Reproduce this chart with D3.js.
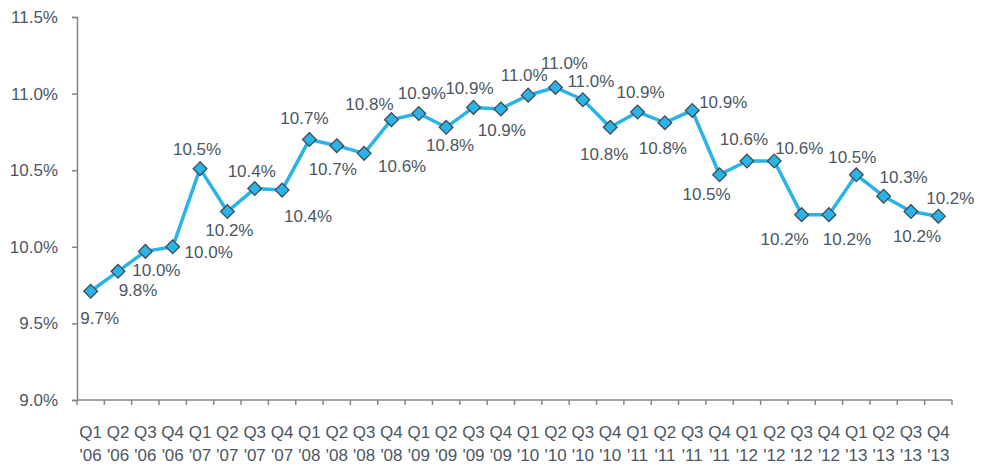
<!DOCTYPE html>
<html>
<head>
<meta charset="utf-8">
<script src="https://cdn.jsdelivr.net/npm/d3@7"></script>
<style>
  body { margin: 0; background: #fff; }
  text { font-family: "Liberation Sans", Arial, sans-serif; }
</style>
</head>
<body>
<svg id="chart" width="991" height="468"></svg>
<script>
// data
const quarters = ['Q1','Q2','Q3','Q4','Q1','Q2','Q3','Q4','Q1','Q2','Q3','Q4','Q1','Q2','Q3','Q4',
                  'Q1','Q2','Q3','Q4','Q1','Q2','Q3','Q4','Q1','Q2','Q3','Q4','Q1','Q2','Q3','Q4'];
const years = ["'06","'06","'06","'06","'07","'07","'07","'07","'08","'08","'08","'08","'09","'09","'09","'09",
               "'10","'10","'10","'10","'11","'11","'11","'11","'12","'12","'12","'12","'13","'13","'13","'13"];
const rates = [9.71, 9.84, 9.97, 10.00, 10.51, 10.23, 10.38, 10.37, 10.70, 10.66, 10.61, 10.83,
               10.87, 10.78, 10.91, 10.90, 10.99, 11.04, 10.96, 10.78, 10.88, 10.81, 10.89, 10.47,
               10.56, 10.56, 10.21, 10.21, 10.47, 10.33, 10.23, 10.20];
const yTicks = [9.0, 9.5, 10.0, 10.5, 11.0, 11.5];

// manual label nudges (px) relative to each point, like the hand-placed labels of the original
const labelOffsets = [[9,27],[20,19],[11,19],[36,5],[-3,-20],[2,18],[-3,-18],[26,26],[-5,-22],[-4,23],
                      [38,13],[-22,-16],[3,-20],[4,18],[-4,-19],[1,21],[-4,-20],[9,-24],[8,-19],[-6,27],
                      [3,-20],[-2,25],[31,-8],[-13,19],[-3,-22],[25,-13],[-17,24],[18,24],[-4,-18],[20,-19],
                      [6,24],[12,-18]];

const svg = d3.select('#chart');
const margin = {left: 77, right: 39, top: 17, bottom: 68};
const W = 991, H = 468;
const axisColor = '#7d8991';
const textColor = '#4b5763';
const lineColor = '#2ab3e6';

const idx = d3.range(rates.length);
let x = d3.scaleBand()
          .domain(idx)
          .range([margin.left, W - margin.right])
          .padding(0);
let y = d3.scaleLinear()
          .domain([9.0, 11.5])
          .range([H - margin.bottom, margin.top]);

// y axis
let yAxis = svg.append('g')
   .attr('transform', 'translate(' + margin.left + ',0)')
   .call(d3.axisLeft(y).tickValues(yTicks).tickSize(5).tickPadding(14)
           .tickFormat(d => d.toFixed(1) + '%'));
yAxis.select('.domain').attr('stroke', axisColor).attr('stroke-width', 1.5);
yAxis.selectAll('.tick line').attr('stroke', axisColor).attr('stroke-width', 1.5);
yAxis.selectAll('.tick text')
     .attr('fill', textColor)
     .attr('font-size', '17px');

// x axis (ticks between categories)
let bottomY = y(9.0);
svg.append('line')
   .attr('x1', margin.left)
   .attr('x2', W - margin.right)
   .attr('y1', bottomY)
   .attr('y2', bottomY)
   .attr('stroke', axisColor)
   .attr('stroke-width', 1.5);
svg.selectAll('.xtick')
   .data(d3.range(rates.length + 1))
   .enter()
   .append('line')
   .attr('class', 'xtick')
   .attr('x1', d => margin.left + d * x.bandwidth())
   .attr('x2', d => margin.left + d * x.bandwidth())
   .attr('y1', bottomY)
   .attr('y2', bottomY + 5)
   .attr('stroke', axisColor)
   .attr('stroke-width', 1.5);
svg.selectAll('.xq')
   .data(idx)
   .enter()
   .append('text')
   .attr('class', 'xq')
   .attr('x', d => x(d) + x.bandwidth() / 2)
   .attr('y', bottomY + 32)
   .attr('dy', '0.35em')
   .attr('text-anchor', 'middle')
   .attr('fill', textColor)
   .attr('font-size', '17px')
   .text(d => quarters[d]);
svg.selectAll('.xy')
   .data(idx)
   .enter()
   .append('text')
   .attr('class', 'xy')
   .attr('x', d => x(d) + x.bandwidth() / 2)
   .attr('y', bottomY + 55)
   .attr('dy', '0.35em')
   .attr('text-anchor', 'middle')
   .attr('fill', textColor)
   .attr('font-size', '17px')
   .text(d => years[d]);

// line
let lineFunction = d3.line()
  .x(d => x(d) + x.bandwidth() / 2)
  .y(d => y(rates[d]));
svg.append('path')
   .attr('d', lineFunction(idx))
   .attr('fill', 'none')
   .attr('stroke', lineColor)
   .attr('stroke-width', 3.5)
   .attr('stroke-linejoin', 'round');

// markers
svg.selectAll('.marker')
   .data(idx)
   .enter()
   .append('path')
   .attr('class', 'marker')
   .attr('d', d3.symbol().type(d3.symbolDiamond2).size(120))
   .attr('transform', d => 'translate(' + (x(d) + x.bandwidth() / 2) + ',' + y(rates[d]) + ')')
   .attr('fill', lineColor)
   .attr('stroke', '#3f4b55')
   .attr('stroke-width', 1.3);

// labels
svg.selectAll('.label')
   .data(idx)
   .enter()
   .append('text')
   .attr('class', 'label')
   .attr('x', d => x(d) + x.bandwidth() / 2 + labelOffsets[d][0])
   .attr('y', d => y(rates[d]) + labelOffsets[d][1])
   .attr('dy', '0.35em')
   .attr('text-anchor', 'middle')
   .attr('fill', textColor)
   .attr('font-size', '17px')
   .text(d => rates[d].toFixed(1) + '%');
</script>
</body>
</html>
